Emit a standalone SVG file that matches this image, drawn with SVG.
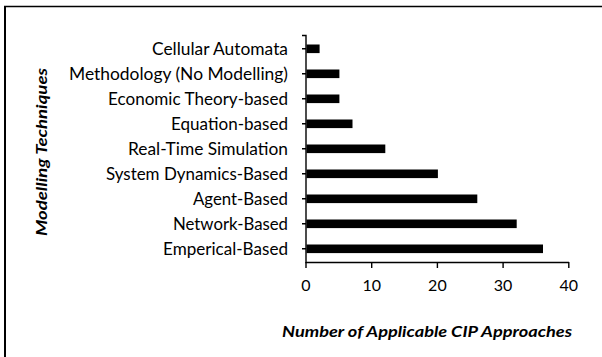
<svg xmlns="http://www.w3.org/2000/svg" width="602" height="357" viewBox="0 0 602 357">
<style>
.lbl{font-family:Lato,"Open Sans","Liberation Sans",sans-serif;font-size:16px;fill:#000}
.cat{text-anchor:end;font-size:16.5px}
.num{text-anchor:middle}
.title{font-family:Lato,"Open Sans","Liberation Sans",sans-serif;font-size:15.5px;font-weight:bold;font-style:italic;fill:#000}
.bar{fill:#000}
.ax{stroke:#000;stroke-width:1.4;fill:none}
</style>
<rect width="602" height="357" fill="#fff"/>
<g id="frame">
<line x1="4" y1="6.5" x2="602" y2="6.5" stroke="#000" stroke-width="1.6"/>
<line x1="5" y1="6" x2="5" y2="357" stroke="#000" stroke-width="2"/>
</g>
<g id="axes" class="ax">
<path d="M302,35.5 H306 V262.5 H569"/>
<path d="M302,48.8 H306 M302,73.8 H306 M302,98.8 H306 M302,123.8 H306 M302,148.8 H306 M302,173.8 H306 M302,198.8 H306 M302,223.8 H306 M302,248.8 H306"/>
<path d="M306,262 V268 M371.7,262 V268 M437.4,262 V268 M503.1,262 V268 M568.8,262 V268"/>
</g>
<g id="bars">
<rect class="bar" x="306.5" y="44.5" width="13.1" height="8.6"/>
<rect class="bar" x="306.5" y="69.5" width="32.9" height="8.6"/>
<rect class="bar" x="306.5" y="94.5" width="32.9" height="8.6"/>
<rect class="bar" x="306.5" y="119.5" width="46" height="8.6"/>
<rect class="bar" x="306.5" y="144.5" width="78.8" height="8.6"/>
<rect class="bar" x="306.5" y="169.5" width="131.4" height="8.6"/>
<rect class="bar" x="306.5" y="194.5" width="170.8" height="8.6"/>
<rect class="bar" x="306.5" y="219.5" width="210.2" height="8.6"/>
<rect class="bar" x="306.5" y="244.5" width="236.5" height="8.6"/>
</g>
<g id="category-labels">
<text class="lbl cat" x="288" y="54.5" textLength="136" lengthAdjust="spacingAndGlyphs">Cellular Automata</text>
<text class="lbl cat" x="288" y="79.5" textLength="219" lengthAdjust="spacingAndGlyphs">Methodology (No Modelling)</text>
<text class="lbl cat" x="288" y="104.5" textLength="180" lengthAdjust="spacingAndGlyphs">Economic Theory-based</text>
<text class="lbl cat" x="288" y="129.5" textLength="117" lengthAdjust="spacingAndGlyphs">Equation-based</text>
<text class="lbl cat" x="288" y="154.5" textLength="160" lengthAdjust="spacingAndGlyphs">Real-Time Simulation</text>
<text class="lbl cat" x="288" y="179.5" textLength="182" lengthAdjust="spacingAndGlyphs">System Dynamics-Based</text>
<text class="lbl cat" x="288" y="204.5" textLength="95" lengthAdjust="spacingAndGlyphs">Agent-Based</text>
<text class="lbl cat" x="288" y="229.5" textLength="115" lengthAdjust="spacingAndGlyphs">Network-Based</text>
<text class="lbl cat" x="288" y="254.5" textLength="125" lengthAdjust="spacingAndGlyphs">Emperical-Based</text>
</g>
<g id="tick-labels">
<text class="lbl num" x="306" y="291">0</text>
<text class="lbl num" x="371.7" y="291">10</text>
<text class="lbl num" x="437.4" y="291">20</text>
<text class="lbl num" x="503.1" y="291">30</text>
<text class="lbl num" x="568.8" y="291">40</text>
</g>
<g id="axis-titles">
<text class="title" x="282" y="337.3" textLength="290" lengthAdjust="spacingAndGlyphs">Number of Applicable CIP Approaches</text>
<text class="title" transform="translate(46.7,236) rotate(-90)" x="0" y="0" textLength="168" lengthAdjust="spacingAndGlyphs">Modelling Techniques</text>
</g>
</svg>
